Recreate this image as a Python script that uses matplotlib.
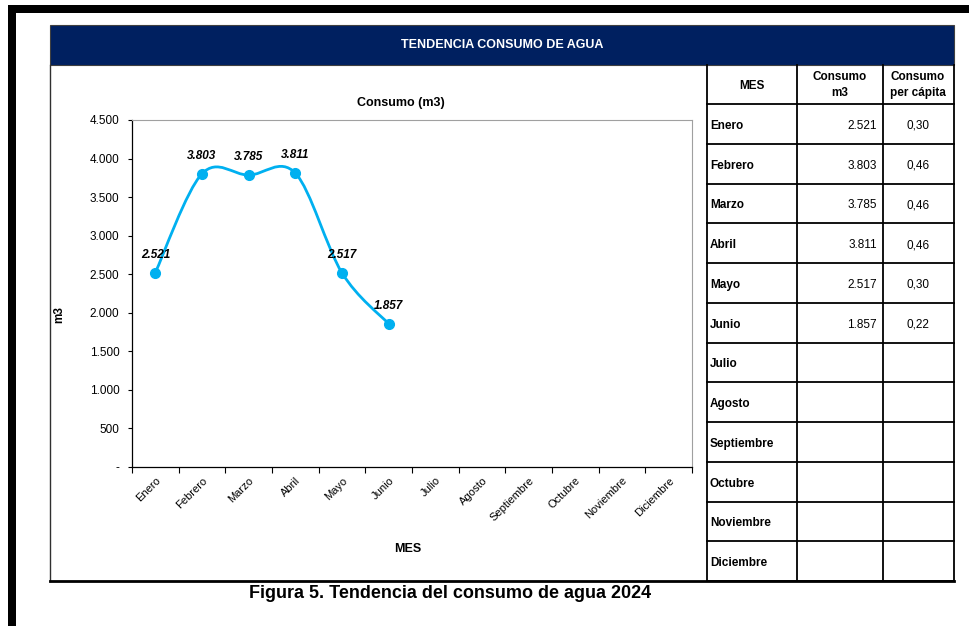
import matplotlib.pyplot as plt
import numpy as np
from matplotlib.path import Path
from matplotlib.patches import PathPatch, Rectangle

plt.rcParams['font.family'] = ['Liberation Sans', 'DejaVu Sans']

# data
meses = ["Enero", "Febrero", "Marzo", "Abril", "Mayo", "Junio", "Julio",
         "Agosto", "Septiembre", "Octubre", "Noviembre", "Diciembre"]
consumo = [2521, 3803, 3785, 3811, 2517, 1857]
per_capita = ["0,30", "0,46", "0,46", "0,46", "0,30", "0,22"]
yticks = [0, 500, 1000, 1500, 2000, 2500, 3000, 3500, 4000, 4500]

W, H = 969, 626
fig = plt.figure(figsize=(W / 100, H / 100), dpi=100)

# background layer in pixel coords
bg = fig.add_axes([0, 0, 1, 1])
bg.set_xlim(0, W)
bg.set_ylim(H, 0)
bg.axis("off")

# black page border (top and left)
bg.add_patch(Rectangle((8, 5), W - 8, 8, color="black", lw=0))
bg.add_patch(Rectangle((8, 5), 8, H - 5, color="black", lw=0))

# header band
bg.add_patch(Rectangle((50, 25), 904, 40, facecolor="#002060", edgecolor="#404040", lw=0.8))
bg.text(502, 45, "TENDENCIA CONSUMO DE AGUA", color="white", fontsize=9,
        fontweight="bold", ha="center", va="center")

# chart frame
bg.plot([50, 50], [65, 581], color="#303030", lw=1)
bg.plot([50, 954], [581, 581], color="black", lw=2)

# table
cols = [707, 797, 883, 954]
top, hdr = 65, 104
rowh = (581 - hdr) / 12
for x in cols:
    bg.plot([x, x], [top, 581], color="black", lw=1.3)
bg.plot([707, 954], [hdr, hdr], color="black", lw=1.3)
for i in range(1, 13):
    y = hdr + i * rowh
    bg.plot([707, 954], [y, y], color="black", lw=1.3)

bg.text(752, 86, "MES", fontsize=8.5, fontweight="bold", ha="center", va="center")
bg.text(840, 85, "Consumo\nm3", fontsize=8.5, fontweight="bold", ha="center", va="center",
        linespacing=1.45)
bg.text(918, 85, "Consumo\nper cápita", fontsize=8.5, fontweight="bold", ha="center", va="center",
        linespacing=1.45)
for i, m in enumerate(meses):
    yc = hdr + (i + 0.5) * rowh + 2
    bg.text(710, yc, m, fontsize=8.5, fontweight="bold", ha="left", va="center")
    if i < len(consumo):
        bg.text(877, yc, f"{consumo[i]:,}".replace(",", "."), fontsize=8.5, ha="right", va="center")
        bg.text(918, yc, per_capita[i], fontsize=8.5, ha="center", va="center")

bg.text(450, 593, "Figura 5. Tendencia del consumo de agua 2024", fontsize=13,
        fontweight="bold", ha="center", va="center")

# chart
ax = fig.add_axes([132 / W, 1 - 467 / H, 560 / W, 347 / H])
ax.set_xlim(-0.5, len(meses) - 0.5)
ax.set_ylim(0, 4500)

x = np.arange(len(consumo))
y = np.array(consumo, dtype=float)

# smoothed line (Catmull-Rom as cubic Bezier, like Excel smoothing)
verts = [(x[0], y[0])]
codes = [Path.MOVETO]
n = len(x)
for i in range(n - 1):
    p0 = i - 1 if i > 0 else i
    p3 = i + 2 if i + 2 < n else i + 1
    c1 = (x[i] + (x[i + 1] - x[p0]) / 6, y[i] + (y[i + 1] - y[p0]) / 6)
    c2 = (x[i + 1] - (x[p3] - x[i]) / 6, y[i + 1] - (y[p3] - y[i]) / 6)
    verts += [c1, c2, (x[i + 1], y[i + 1])]
    codes += [Path.CURVE4] * 3
ax.add_patch(PathPatch(Path(verts, codes), facecolor="none", edgecolor="#00B0F0", lw=2, zorder=3))
ax.plot(x, y, "o", color="#00B0F0", markersize=7, zorder=4)

for xi, yi in zip(x, consumo):
    ax.annotate(f"{yi:,}".replace(",", "."), (xi, yi), xytext=(0, 13), textcoords="offset points",
                ha="center", va="center", fontsize=8.5, fontweight="bold", fontstyle="italic")

ax.set_yticks(yticks)
ax.set_yticklabels(["-" if v == 0 else f"{v:,}".replace(",", ".") for v in yticks], fontsize=8.5)
ax.set_xticks(np.arange(len(meses)))
ax.set_xticklabels(meses, rotation=45, ha="right", rotation_mode="anchor", fontsize=8)
ax.tick_params(axis="x", length=0, pad=6)
ax.set_xticks(np.arange(len(meses) + 1) - 0.5, minor=True)
ax.tick_params(axis="x", which="minor", length=4, width=0.8)
ax.tick_params(axis="y", length=3, width=0.8, pad=6)

for s in ["top", "right"]:
    ax.spines[s].set_color("#a0a0a0")
    ax.spines[s].set_linewidth(0.8)
for s in ["left", "bottom"]:
    ax.spines[s].set_color("black")
    ax.spines[s].set_linewidth(0.9)

ax.set_title("Consumo (m3)", fontsize=9, fontweight="bold", pad=10, x=0.48)
ax.set_ylabel("m3", fontsize=8.5, fontweight="bold")
ax.set_xlabel("MES", fontsize=9, fontweight="bold")
ax.xaxis.set_label_coords(276 / 560, -76 / 347)
ax.yaxis.set_label_coords(-67 / 560, 0.44)

fig.savefig("out.png", dpi=100)
